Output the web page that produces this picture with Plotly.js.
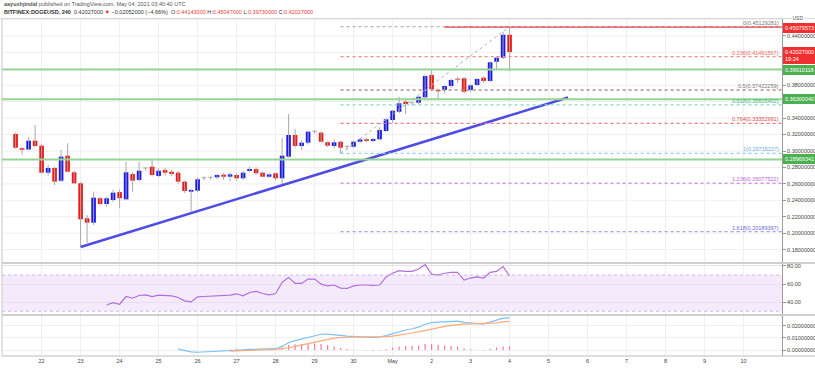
<!DOCTYPE html>
<html><head><meta charset="utf-8">
<script src="https://cdn.plot.ly/plotly-3.0.1.min.js"></script>
<style>html,body{margin:0;padding:0;background:#fff}#chart{width:815px;height:368px}</style>
</head><body><div id="chart"></div>
<script>
// ---- data (BITFINEX:DOGEUSD, 240) ----
const firstCandleUTC = [2021, 3, 21, 8, 0]; // Apr 21 08:00
const candleHours = 4;
const opens  = [0.3207,0.3035,0.3018,0.3125,0.3065,0.2736,0.2793,0.2638,0.2943,0.2741,
                0.2607,0.2181,0.2128,0.2425,0.2355,0.2404,0.2500,0.2412,0.2720,0.2647,
                0.2788,0.2809,0.2696,0.2769,0.2748,0.2736,0.2627,0.2505,0.2517,0.2668,
                0.2675,0.2680,0.2712,0.2687,0.2708,0.2668,0.2757,0.2781,0.2736,0.2687,
                0.2729,0.2668,0.2931,0.3195,0.3061,0.3101,0.3235,0.3223,0.3106,0.3061,
                0.3113,0.3052,0.3052,0.3113,0.3142,0.3122,0.3142,0.3243,0.3377,0.3478,
                0.3600,0.3582,0.3588,0.3653,0.3925,0.3742,0.3742,0.3791,0.3872,0.3884,
                0.3742,0.3803,0.3892,0.3852,0.4086,0.4135,0.44143];
const highs  = [0.3225,0.3052,0.3167,0.3316,0.3085,0.2830,0.2810,0.3012,0.3094,0.2760,
                0.2620,0.2220,0.2505,0.2445,0.2440,0.2530,0.2530,0.2870,0.2740,0.2870,
                0.2800,0.2891,0.2790,0.2790,0.2770,0.2760,0.2640,0.2540,0.2680,0.2690,
                0.2690,0.2720,0.2730,0.2740,0.2730,0.2760,0.2810,0.2800,0.2750,0.2730,
                0.2740,0.3155,0.3450,0.3270,0.3130,0.3250,0.3250,0.3240,0.3120,0.3140,
                0.3125,0.3070,0.3130,0.3160,0.3160,0.3160,0.3290,0.3400,0.3500,0.3661,
                0.3620,0.3600,0.3670,0.3930,0.3985,0.3760,0.3800,0.3880,0.3900,0.3900,
                0.3810,0.3890,0.3910,0.4090,0.4150,0.4451,0.45047];
const lows   = [0.3028,0.2955,0.3010,0.3050,0.2730,0.2700,0.2586,0.2620,0.2740,0.2600,
                0.1832,0.1881,0.2100,0.2340,0.2320,0.2380,0.2303,0.2400,0.2505,0.2630,
                0.2760,0.2690,0.2680,0.2700,0.2700,0.2600,0.2490,0.2262,0.2500,0.2640,
                0.2650,0.2660,0.2650,0.2630,0.2640,0.2650,0.2740,0.2710,0.2680,0.2670,
                0.2640,0.2586,0.2920,0.3040,0.3010,0.3080,0.3210,0.3100,0.3050,0.3030,
                0.29715,0.3010,0.3040,0.3100,0.3110,0.3110,0.3130,0.3230,0.3340,0.3460,
                0.3450,0.3550,0.3570,0.3640,0.3730,0.3620,0.3700,0.3770,0.3830,0.3700,
                0.3720,0.3790,0.3830,0.3840,0.3994,0.4120,0.3973];
const closes = [0.3040,0.3015,0.3125,0.3060,0.2736,0.2793,0.2627,0.2931,0.2748,0.2607,
                0.2169,0.2128,0.2432,0.2355,0.2425,0.2493,0.2425,0.2741,0.2639,0.2760,
                0.2788,0.2708,0.2760,0.2736,0.2720,0.2627,0.2513,0.2526,0.2656,0.2668,
                0.2675,0.2708,0.2687,0.2716,0.2668,0.2736,0.2781,0.2729,0.2687,0.2716,
                0.2668,0.2943,0.3195,0.3061,0.3101,0.3235,0.3235,0.3113,0.3065,0.3106,
                0.3040,0.3052,0.3113,0.3142,0.3122,0.3146,0.3255,0.3386,0.3490,0.3580,
                0.3572,0.3582,0.3660,0.3912,0.3751,0.3726,0.3791,0.3864,0.3868,0.3721,
                0.3799,0.3876,0.3852,0.4079,0.4135,0.4414,0.42027];

const rsiStart = 14;
const rsiValues = [37.0,39.6,37.8,46.3,44.4,47.4,48.1,46.3,47.8,47.0,
                   47.0,45.2,41.5,40.4,46.0,46.3,46.7,47.4,48.1,47.8,
                   49.3,47.0,50.7,51.9,49.6,48.1,49.6,61.9,67.4,60.7,
                   60.7,65.6,65.6,60.0,58.0,59.0,55.6,55.2,58.0,59.0,
                   59.0,58.5,59.0,68.0,72.0,74.8,74.0,74.0,76.7,81.5,
                   71.0,70.0,72.0,73.0,73.0,64.4,66.7,68.0,66.7,73.0,
                   74.0,79.3,69.0];

const macdStart = 25;
const macdValues = [0.0008,-0.0004,-0.0015,-0.0018,-0.0016,-0.0013,-0.0010,-0.0007,-0.0004,-0.0002,
                    0.0001,0.0005,0.0008,0.0010,0.0011,0.0011,0.0030,0.0060,0.0078,0.0092,
                    0.0108,0.0122,0.0130,0.0131,0.0128,0.0120,0.0114,0.0110,0.0108,0.0106,
                    0.0105,0.0106,0.0118,0.0135,0.0152,0.0165,0.0175,0.0188,0.0212,0.0225,
                    0.0230,0.0233,0.0236,0.0238,0.0228,0.0222,0.0219,0.0214,0.0230,0.0244,
                    0.0262,0.0265];
const signalStart = 33;
const signalValues = [-0.0009,-0.0008,-0.0006,-0.0004,-0.0001,0.0001,0.0003,0.0005,0.0010,0.0019,
                      0.0030,0.0042,0.0055,0.0068,0.0080,0.0090,0.0098,0.0103,0.0106,0.0107,
                      0.0108,0.0108,0.0108,0.0108,0.0110,0.0115,0.0122,0.0131,0.0140,0.0150,
                      0.0162,0.0175,0.0186,0.0195,0.0203,0.0210,0.0213,0.0215,0.0216,0.0216,
                      0.0219,0.0224,0.0232,0.0236];
const histValues = [0.0005,0.0006,0.0007,0.0009,0.0009,0.0009,0.0008,0.0006,0.0020,0.0041,
                    0.0048,0.0050,0.0053,0.0054,0.0050,0.0041,0.0030,0.0017,0.0008,0.0003,
                    0.0000,-0.0002,-0.0003,-0.0002,0.0008,0.0020,0.0030,0.0034,0.0035,0.0038,
                    0.0050,0.0050,0.0044,0.0038,0.0033,0.0028,0.0015,0.0007,0.0003,-0.0002,
                    0.0011,0.0020,0.0030,0.0029];

const dayTicks = ['2021-04-22','2021-04-23','2021-04-24','2021-04-25','2021-04-26','2021-04-27',
                  '2021-04-28','2021-04-29','2021-04-30','2021-05-01','2021-05-02','2021-05-03',
                  '2021-05-04','2021-05-05','2021-05-06','2021-05-07','2021-05-08','2021-05-09','2021-05-10'];
const dayLabels = ['22','23','24','25','26','27','28','29','30','May','2','3','4','5','6','7','8','9','10'];
const priceTicks = [0.18,0.20,0.22,0.24,0.26,0.28,0.30,0.32,0.34,0.38,0.44];
const priceGrid = [0.18,0.20,0.22,0.24,0.26,0.28,0.30,0.32,0.34,0.36,0.38,0.40,0.42,0.44,0.46];

const supportLevels = [0.39910118, 0.36300040, 0.28969341];
const resistanceLevels = [0.45079573];
const resistanceStart = ['2021-05-02 08:00'];
const lastPrice = [0.42027];
const lastPriceLabel = ['0.42027000', '19:24'];

const fibRatios = ['0','0.236','0.5','0.618','0.764','1','1.236','1.618'];
const fibPrices = [0.45129281,0.41491567,0.37422259,0.35605402,0.33352991,0.29715237,0.26077522,0.20189397];
const fibAnchorIdx = [50, 76];   // swing low candle -> swing high candle

const trendTimes = ['2021-04-23 00:00','2021-05-05 12:00'];
const trendPrices = [0.1832, 0.3650];

// ---- build ----
function fmt(ms){const d=new Date(ms);const p=n=>String(n).padStart(2,'0');
  return d.getUTCFullYear()+'-'+p(d.getUTCMonth()+1)+'-'+p(d.getUTCDate())+' '+p(d.getUTCHours())+':'+p(d.getUTCMinutes());}
const t0 = Date.UTC(...firstCandleUTC);
const times = opens.map((_,i)=>fmt(t0+i*candleHours*3600e3));
const xRange = ['2021-04-20 23:38','2021-05-10 23:38'];
const pxMs = 86400000/39;

const UP='#1a1aee', DN='#ee1a1a', DOJI='#9aa89a', WICK='#a8a8a8';
const FONT='Liberation Sans, Arial, sans-serif';

// wicks
const wx=[], wy=[];
times.forEach((t,i)=>{wx.push(t,t,null); wy.push(lows[i],highs[i],null);});
const wicks={type:'scatter',mode:'lines',x:wx,y:wy,xaxis:'x',yaxis:'y',
  line:{color:WICK,width:1},hoverinfo:'skip',showlegend:false};
// bodies
const base=opens.map((o,i)=>Math.min(o,closes[i]));
const hgt=opens.map((o,i)=>Math.max(Math.abs(closes[i]-o),0.0011));
const bcol=opens.map((o,i)=>closes[i]>o?UP:(closes[i]<o?DN:DOJI));
const bodies={type:'bar',x:times,y:hgt,base:base,xaxis:'x',yaxis:'y',width:4.6*pxMs,
  marker:{color:bcol,line:{width:0}},hoverinfo:'skip',showlegend:false};

const trend={type:'scatter',mode:'lines',x:trendTimes,y:trendPrices,xaxis:'x',yaxis:'y',
  line:{color:'#4d4de6',width:2.6},hoverinfo:'skip',showlegend:false};
const fibDiag={type:'scatter',mode:'lines',x:[times[fibAnchorIdx[0]],times[fibAnchorIdx[1]]],
  y:[fibPrices[5],fibPrices[0]],xaxis:'x',yaxis:'y',
  line:{color:'#b0b0b0',width:1,dash:'dot'},hoverinfo:'skip',showlegend:false};

const rsi={type:'scatter',mode:'lines',x:times.slice(rsiStart),y:rsiValues,xaxis:'x',yaxis:'y2',
  line:{color:'#b070d8',width:1.2},hoverinfo:'skip',showlegend:false};
const hist={type:'bar',x:times.slice(signalStart),y:histValues,xaxis:'x',yaxis:'y3',width:1.2*pxMs,
  marker:{color:'#f47aa0',line:{width:0}},hoverinfo:'skip',showlegend:false};
const macd={type:'scatter',mode:'lines',x:times.slice(macdStart),y:macdValues,xaxis:'x',yaxis:'y3',
  line:{color:'#7cc2f6',width:1.2},hoverinfo:'skip',showlegend:false};
const signal={type:'scatter',mode:'lines',x:times.slice(signalStart),y:signalValues,xaxis:'x',yaxis:'y3',
  line:{color:'#ffaa78',width:1.2},hoverinfo:'skip',showlegend:false};

const fibLineColors=['#b4b4b4','#f08a8a','#b48a8a','#86d9c2','#f07a7a','#9ccbf2','#cf9ade','#a0a4e6'];
const fibTextColors=['#777777','#ef6464','#777777','#3dbb7e','#e04a4a','#6aaee8','#b866cf','#6a6ad8'];

const shapes=[];
const annotations=[];
// horizontal price grid (every 0.02)
priceGrid.forEach(v=>shapes.push({type:'line',xref:'paper',x0:0,x1:1,yref:'y',y0:v,y1:v,line:{color:'#efefef',width:1},layer:'below'}));
// green support lines
supportLevels.forEach(v=>{
  shapes.push({type:'line',xref:'paper',x0:0,x1:1,yref:'y',y0:v,y1:v,line:{color:'#95d495',width:2}});
  annotations.push({xref:'paper',x:1,xanchor:'left',xshift:1,yref:'y',y:v,yanchor:'middle',
    text:v.toFixed(8),showarrow:false,bgcolor:'#4caf50',bordercolor:'#4caf50',borderpad:1,
    font:{family:FONT,size:5.5,color:'#fff'}});
});
// red resistance line
resistanceLevels.forEach((v,i)=>{
  shapes.push({type:'line',xref:'x',x0:resistanceStart[i],x1:xRange[1],yref:'y',y0:v,y1:v,line:{color:'#f03c3c',width:1.5}});
  annotations.push({xref:'paper',x:1,xanchor:'left',xshift:1,yref:'y',y:v,yanchor:'middle',yshift:-1,
    text:v.toFixed(8),showarrow:false,bgcolor:'#f03030',bordercolor:'#f03030',borderpad:1,
    font:{family:FONT,size:5.5,color:'#fff'}});
});
// last price label
annotations.push({xref:'paper',x:1,xanchor:'left',xshift:1,yref:'y',y:lastPrice[0],yanchor:'middle',yshift:-3,
  text:lastPriceLabel.join('<br>'),showarrow:false,bgcolor:'#f03030',bordercolor:'#f03030',borderpad:1,align:'left',
  font:{family:FONT,size:5.5,color:'#fff'}});
// fib levels
fibPrices.forEach((v,i)=>{
  shapes.push({type:'line',xref:'x',x0:times[fibAnchorIdx[0]],x1:xRange[1],yref:'y',y0:v,y1:v,
    line:{color:fibLineColors[i],width:1.3,dash:'dot'}});
  annotations.push({xref:'paper',x:1,xanchor:'right',xshift:-1,yref:'y',y:v,yanchor:'bottom',yshift:-1,
    text:fibRatios[i]+'('+v.toFixed(8)+')',showarrow:false,
    font:{family:FONT,size:5.5,color:fibTextColors[i]}});
});
// RSI band
shapes.push({type:'rect',xref:'paper',x0:0,x1:1,yref:'y2',y0:30,y1:70,fillcolor:'rgba(190,130,235,0.17)',line:{width:0},layer:'below'});
[30,70].forEach(v=>shapes.push({type:'line',xref:'paper',x0:0,x1:1,yref:'y2',y0:v,y1:v,line:{color:'#d4b6ef',width:1,dash:'dot'}}));
// pane separators / borders
const pY=py=>(356-py)/337;
[263,315].forEach(py=>shapes.push({type:'line',xref:'paper',x0:0,x1:1.05,yref:'paper',y0:pY(py),y1:pY(py),line:{color:'#cfcfcf',width:2}}));
shapes.push({type:'line',xref:'paper',x0:-0.01,x1:1.05,yref:'paper',y0:pY(18.5),y1:pY(18.5),line:{color:'#d8d8d8',width:1}});
shapes.push({type:'line',xref:'paper',x0:0,x1:1.05,yref:'paper',y0:0,y1:0,line:{color:'#bdbdbd',width:1}});
shapes.push({type:'line',xref:'paper',x0:0,x1:0,yref:'paper',y0:0,y1:1,line:{color:'#c8c8c8',width:1}});

// header
annotations.push({xref:'paper',yref:'paper',x:0,xanchor:'left',y:pY(4),yanchor:'middle',showarrow:false,
  text:'<b>aayushjindal</b> published on TradingView.com, May 04, 2021 03:40:40 UTC',
  font:{family:FONT,size:5.5,color:'#555'}});
annotations.push({xref:'paper',yref:'paper',x:0,xanchor:'left',y:pY(12.5),yanchor:'middle',showarrow:false,
  text:'<b>BITFINEX:DOGEUSD, 240</b>  0.42027000 <span style="color:#e02020">▼</span> −0.02052000 (−4.66%)  O:<span style="color:#e84040">0.44143000</span> H:<span style="color:#e84040">0.45047000</span> L:<span style="color:#e84040">0.39730000</span> C:<span style="color:#e84040">0.42027000</span>',
  font:{family:FONT,size:5.5,color:'#333'}});
// currency tag
annotations.push({xref:'paper',yref:'paper',x:1,xanchor:'left',xshift:9,y:pY(22.5),yanchor:'bottom',showarrow:false,
  text:'USD',bgcolor:'#ffffff',borderpad:0.5,font:{family:FONT,size:5,color:'#555'}});

const tickFont={family:FONT,size:5.5,color:'#444'};
const layout={
  width:815,height:368,margin:{l:2,r:33,t:19,b:12},
  paper_bgcolor:'#fff',plot_bgcolor:'#fff',showlegend:false,barmode:'overlay',
  xaxis:{type:'date',range:xRange,anchor:'y3',tickvals:dayTicks,ticktext:dayLabels,
    tickfont:tickFont,showgrid:true,gridcolor:'#efefef',gridwidth:1,zeroline:false,
    showline:false,ticks:'',ticklen:2,automargin:false},
  yaxis:{domain:[pY(262),1],range:[0.16496,0.46058],side:'right',anchor:'x',tickvals:priceTicks,
    tickformat:'.8f',tickfont:tickFont,showgrid:false,zeroline:false,
    showline:true,linecolor:'#9a9a9a',ticks:'outside',ticklen:3,tickcolor:'#9a9a9a',automargin:false},
  yaxis2:{domain:[pY(314),pY(264)],range:[27,82.2],side:'right',anchor:'x',tickvals:[40,60,80],
    tickformat:'.2f',tickfont:tickFont,showgrid:true,gridcolor:'#e8e0f0',zeroline:false,
    showline:true,linecolor:'#9a9a9a',ticks:'outside',ticklen:3,tickcolor:'#9a9a9a',automargin:false},
  yaxis3:{domain:[0,pY(316)],range:[-0.0049,0.028],side:'right',anchor:'x',tickvals:[0,0.01,0.02],
    tickformat:'.8f',tickfont:tickFont,showgrid:true,gridcolor:'#efefef',zeroline:false,
    showline:true,linecolor:'#9a9a9a',ticks:'outside',ticklen:3,tickcolor:'#9a9a9a',automargin:false},
  shapes:shapes,annotations:annotations
};
Plotly.newPlot('chart',[wicks,bodies,trend,fibDiag,rsi,hist,macd,signal],layout,{displayModeBar:false,staticPlot:true});
</script></body></html>
